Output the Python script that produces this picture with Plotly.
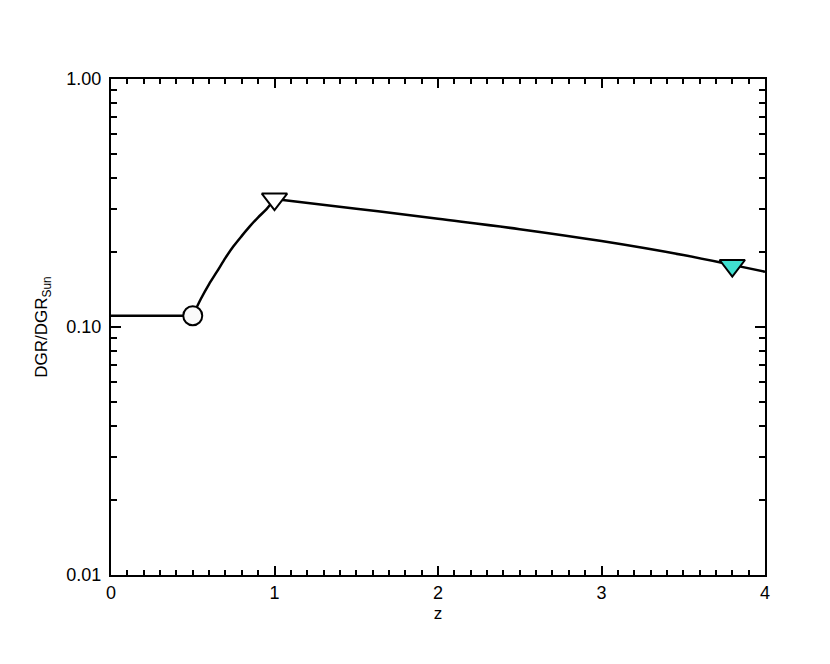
import plotly.graph_objects as go

# flat part, z < 0.5
z_flat = [0.0, 0.5]
dgr_flat = [0.111, 0.111]

# rising part, 0.5 -> 1
z_rise = [0.5, 0.55, 0.6, 0.65, 0.7, 0.75, 0.8, 0.85, 0.9, 0.95, 1.0]
dgr_rise = [0.111, 0.130, 0.149, 0.168, 0.190, 0.212, 0.233, 0.255, 0.277, 0.298, 0.328]

# declining part, 1 -> 4
z_fall = [1.0, 1.5, 2.0, 2.5, 3.0, 3.5, 3.8, 4.0]
dgr_fall = [0.328, 0.300, 0.273, 0.248, 0.222, 0.195, 0.178, 0.167]

# markers
z_circ, dgr_circ = [0.5], [0.111]
z_open_tri, dgr_open_tri = [1.0], [0.328]
z_cyan_tri, dgr_cyan_tri = [3.8], [0.177]

y_tickvals = [0.01, 0.1, 1.0]
y_ticktext = ["0.01", "0.10", "1.00"]
y_minor = [m * d for d in (0.01, 0.1) for m in range(2, 10)]

line = dict(color="black", width=2.5)

fig = go.Figure()
fig.add_trace(go.Scatter(x=z_flat, y=dgr_flat, mode="lines", line=line))
fig.add_trace(go.Scatter(x=z_rise, y=dgr_rise, mode="lines", line=dict(line, shape="spline", smoothing=0.8)))
fig.add_trace(go.Scatter(x=z_fall, y=dgr_fall, mode="lines", line=dict(line, shape="spline")))

fig.add_trace(go.Scatter(x=z_circ, y=dgr_circ, mode="markers",
                         marker=dict(symbol="circle", size=19, color="#fafafa",
                                     line=dict(color="black", width=2))))
fig.add_trace(go.Scatter(x=z_open_tri, y=dgr_open_tri, mode="markers",
                         marker=dict(symbol="triangle-down", size=22, color="white",
                                     line=dict(color="black", width=2))))
fig.add_trace(go.Scatter(x=z_cyan_tri, y=dgr_cyan_tri, mode="markers",
                         marker=dict(symbol="triangle-down", size=22, color="#40E0D0",
                                     line=dict(color="black", width=2))))

# page body adds 8px offset, so margins are shifted by that
fig.update_layout(
    width=830, height=664,
    margin=dict(l=103, r=73, t=71, b=97),
    paper_bgcolor="white", plot_bgcolor="white",
    showlegend=False,
    font=dict(family="Liberation Sans, Arial, sans-serif", size=17, color="black"),
)

fig.update_xaxes(
    range=[0, 4], tickvals=[0, 1, 2, 3, 4],
    tickfont=dict(size=18),
    showgrid=False, zeroline=False,
    showline=True, linecolor="black", linewidth=2, mirror="ticks",
    ticks="inside", ticklen=9, tickwidth=1.5, tickcolor="black",
    minor=dict(dtick=0.1, ticks="inside", ticklen=5, tickwidth=1.5, tickcolor="black", showgrid=False),
    title=dict(text="z", standoff=6, font=dict(size=17)),
)

fig.update_yaxes(
    type="log", range=[-2, 0],
    tickvals=y_tickvals, ticktext=y_ticktext,
    tickfont=dict(size=18),
    showgrid=False, zeroline=False,
    showline=True, linecolor="black", linewidth=2, mirror="ticks",
    ticks="inside", ticklen=10, tickwidth=1.5, tickcolor="black",
    minor=dict(tickvals=y_minor, ticks="inside", ticklen=6, tickwidth=1.5, tickcolor="black", showgrid=False),
    ticklabelstandoff=4,
    title=dict(text="DGR/DGR<sub>Sun</sub>", standoff=14, font=dict(size=17)),
)

fig.write_html("out.html")
